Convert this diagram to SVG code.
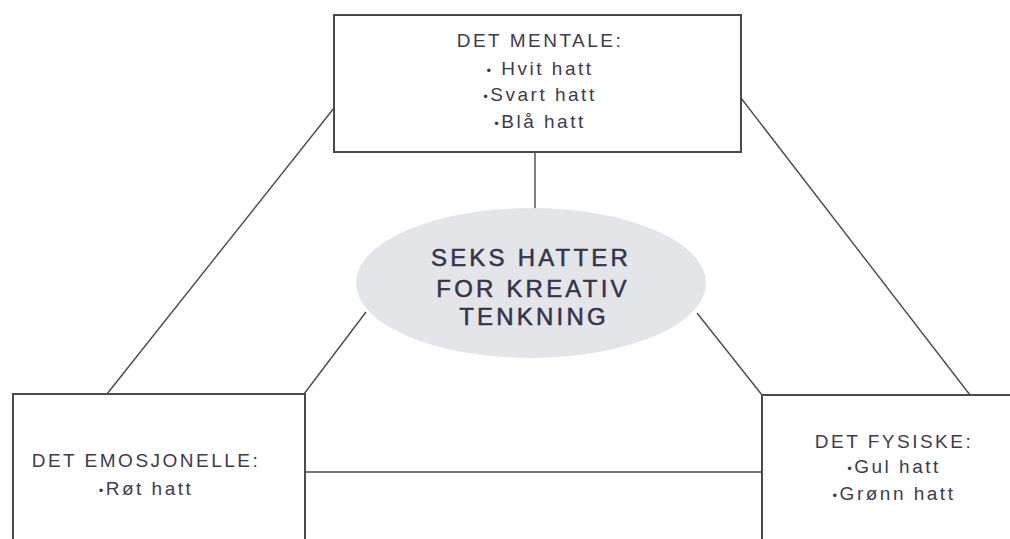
<svg xmlns="http://www.w3.org/2000/svg" width="1010" height="539" viewBox="0 0 1010 539">
  <defs>
    <style>
      .box { fill: #ffffff; stroke: #4a4a4a; stroke-width: 2; }
      .link { stroke: #4a4a4a; stroke-width: 1.4; fill: none; }
      .hub { fill: #e3e5e9; stroke: none; }
      .lbl { font-family: "Liberation Sans", Arial, sans-serif; font-size: 19px; fill: #3d3b4f; text-anchor: middle; letter-spacing: 2.5px; }
      .hubtxt { font-family: "Liberation Sans", Arial, sans-serif; font-size: 24px; fill: #35344a; stroke: #35344a; stroke-width: 0.5; text-anchor: middle; letter-spacing: 3.2px; }
      .dot { font-size: 13px; }
    </style>
  </defs>
  <rect width="1010" height="539" fill="#ffffff"/>

  <g id="connectors">
    <line class="link" x1="334" y1="108" x2="107" y2="394"/>
    <line class="link" x1="741" y1="98" x2="970" y2="395"/>
    <line class="link" x1="535" y1="152" x2="535" y2="209"/>
    <line class="link" x1="366" y1="312" x2="304" y2="394"/>
    <line class="link" x1="697" y1="313" x2="762" y2="395"/>
    <line class="link" x1="305" y1="472" x2="762" y2="472"/>
  </g>

  <g id="node-mentale">
    <rect class="box" x="334" y="15" width="407" height="137"/>
    <text class="lbl" x="540" y="47">DET MENTALE:</text>
    <text class="lbl" x="540" y="75"><tspan class="dot">•</tspan> Hvit hatt</text>
    <text class="lbl" x="540" y="101"><tspan class="dot">•</tspan>Svart hatt</text>
    <text class="lbl" x="540" y="128"><tspan class="dot">•</tspan>Blå hatt</text>
  </g>

  <g id="node-hub">
    <ellipse class="hub" cx="531" cy="283" rx="175" ry="75"/>
    <text class="hubtxt" x="531" y="266">SEKS HATTER</text>
    <text class="hubtxt" x="533" y="297">FOR KREATIV</text>
    <text class="hubtxt" x="534" y="325">TENKNING</text>
  </g>

  <g id="node-emosjonelle">
    <rect class="box" x="13" y="394" width="292" height="160"/>
    <text class="lbl" x="146" y="467">DET EMOSJONELLE:</text>
    <text class="lbl" x="146" y="495"><tspan class="dot">•</tspan>Røt hatt</text>
  </g>

  <g id="node-fysiske">
    <rect class="box" x="762" y="395" width="260" height="160"/>
    <text class="lbl" x="894" y="448">DET FYSISKE:</text>
    <text class="lbl" x="894" y="473"><tspan class="dot">•</tspan>Gul hatt</text>
    <text class="lbl" x="894" y="500"><tspan class="dot">•</tspan>Grønn hatt</text>
  </g>
</svg>
